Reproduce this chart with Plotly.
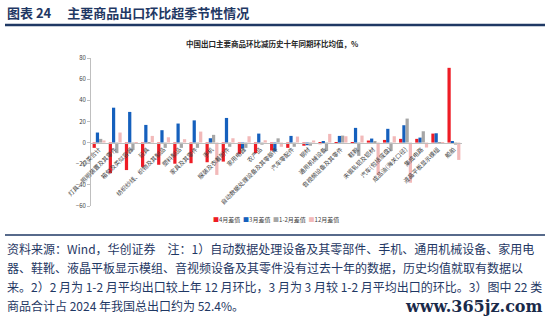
import plotly.graph_objects as go

# Categories (x axis) and the four month-over-month excess series (%)
categories = ["22类合计", "灯具、照明装置及其零件", "箱包及类似容器", "玩具",
              "纺织纱线、织物及其制品", "塑料制品", "家具及其零件", "手机",
              "服装及衣着附件", "家用电器", "农产品", "自动数据处理设备及其零部件",
              "汽车零配件", "钢材", "通用机械设备", "音视频设备及其零件", "鞋靴",
              "未锻轧铝及铝材", "汽车(包括底盘)", "成品油(海关口径)", "集成电路",
              "液晶平板显示模组", "船舶"]
series_names = ["4月差值", "3月差值", "1-2月差值", "12月差值"]
apr_vals = [-5, -29, -26, -23, -21, -20, -19.5, -18.6, -18, -10.7, -10, -7.6,
            -5, -3, -1.5, -1, -1, 1.9, 2.5, 3.5, 3.5, 8.5, 70.7]
mar_vals = [9.5, 33, 29, 16.7, 11.7, 18, 21, 4.1, 23.3, -5.7, 8.5, -8.5,
            6.3, -2.5, 0.8, 6.3, 13.9, 3.8, 13, 16.4, 4.7, 8.8, 1.3]
janfeb_vals = [3.5, -10, -7, 0.3, -5, -5, -5, 7.3, -4, -5, -2, 4,
               -4, -3, -8, 6.6, -12.6, 1, -8, 22.7, 10.7, -1, -2]
dec_vals = [2, 9.5, -1, 6.3, 5, 3.2, 10.4, -30.6, 4.1, 6, 2.2, -4,
            5.7, 2, 8.2, 6, 6.6, -31, 6, -38, -4.7, 0.3, -16.4]
y_ticks = [-60, -40, -20, 0, 20, 40, 60, 80]

colors = ["#ee1c25", "#1560bd", "#a6a6a6", "#f2b9b9"]
values = [apr_vals, mar_vals, janfeb_vals, dec_vals]

W, H = 550, 324
L, R, T, B = 91, 88, 58, 118
PW, PH = W - L - R, H - T - B
NAVY = "#1f3864"
FONT = "Noto Sans CJK SC"


def px(x, y):
    """Pixel position on the page -> paper coordinates."""
    return (x - L) / PW, (H - B - y) / PH


fig = go.Figure()
for name, vals, c in zip(series_names, values, colors):
    fig.add_trace(go.Bar(x=categories, y=vals, name=name, marker_color=c,
                         marker_line_width=0))

y_lo, y_hi = y_ticks[0], y_ticks[-1]
zero_pos = (0 - y_lo) / (y_hi - y_lo)

fig.update_layout(
    width=W, height=H,
    margin=dict(l=L, r=R, t=T, b=B),
    paper_bgcolor="white", plot_bgcolor="white",
    barmode="group", bargap=0.2, bargroupgap=0,
    showlegend=False,
    font=dict(family=FONT, color="#404040"),
    xaxis=dict(anchor="free", position=zero_pos, showline=True,
               linecolor="#bfbfbf", linewidth=1, tickangle=-45,
               tickfont=dict(size=6, color="#404040"), ticks="",
               showgrid=False),
    yaxis=dict(range=[y_lo, y_hi], tickvals=y_ticks, showline=True,
               linecolor="#bfbfbf", linewidth=1, ticks="outside", ticklen=3,
               tickcolor="#bfbfbf", tickfont=dict(size=6, color="#404040"),
               showgrid=False, zeroline=False),
)

ann = []
# Page header
hx, hy = px(5, 12)
ann.append(dict(x=hx, y=hy, xref="paper", yref="paper", xanchor="left",
                yanchor="middle", showarrow=False,
                text="<b>图表 24　 主要商品出口环比超季节性情况</b>",
                font=dict(size=13, color=NAVY, family=FONT)))
# Chart title
tx, ty = px(272, 43)
ann.append(dict(x=tx, y=ty, xref="paper", yref="paper", xanchor="center",
                yanchor="middle", showarrow=False,
                text="<b>中国出口主要商品环比减历史十年同期环比均值，%</b>",
                font=dict(size=7.5, color="#262626", family=FONT)))
# Legend row
legend_text = "  ".join(
    f"<span style='color:{c}'>■</span>{n}" for n, c in zip(series_names, colors))
lx, ly = px(276, 219)
ann.append(dict(x=lx, y=ly, xref="paper", yref="paper", xanchor="center",
                yanchor="middle", showarrow=False, text=legend_text,
                font=dict(size=6, color="#404040", family=FONT)))
# Footnote
notes = [
    "资料来源：Wind，华创证券　注：1）自动数据处理设备及其零部件、手机、通用机械设备、家用电",
    "器、鞋靴、液晶平板显示模组、音视频设备及其零件没有过去十年的数据，历史均值就取有数据以",
    "来。2）2 月为 1-2 月平均出口较上年 12 月环比，3 月为 3 月较 1-2 月平均出口的环比。3）图中 22 类",
    "商品合计占 2024 年我国总出口约为 52.4%。",
]
for i, line in enumerate(notes):
    nx, ny = px(5, 248 + 19 * i)
    ann.append(dict(x=nx, y=ny, xref="paper", yref="paper", xanchor="left",
                    yanchor="middle", showarrow=False, text=line,
                    font=dict(size=12, color=NAVY, family=FONT)))
wx, wy = px(545, 306)
ann.append(dict(x=wx, y=wy, xref="paper", yref="paper", xanchor="right",
                yanchor="middle", showarrow=False, text="<b>www.365jz.com</b>",
                font=dict(size=16, color="#1a2a4a", family="DejaVu Serif")))
fig.update_layout(annotations=ann)

# Rules above and below the chart block
x0, y0 = px(5, 25)
x1, _ = px(545, 25)
_, yb = px(0, 235)
fig.update_layout(shapes=[
    dict(type="line", xref="paper", yref="paper", x0=x0, x1=x1, y0=y0, y1=y0,
         line=dict(color=NAVY, width=2.5)),
    dict(type="line", xref="paper", yref="paper", x0=x0, x1=x1, y0=yb, y1=yb,
         line=dict(color=NAVY, width=1.5)),
])

fig.write_html("out.html")
